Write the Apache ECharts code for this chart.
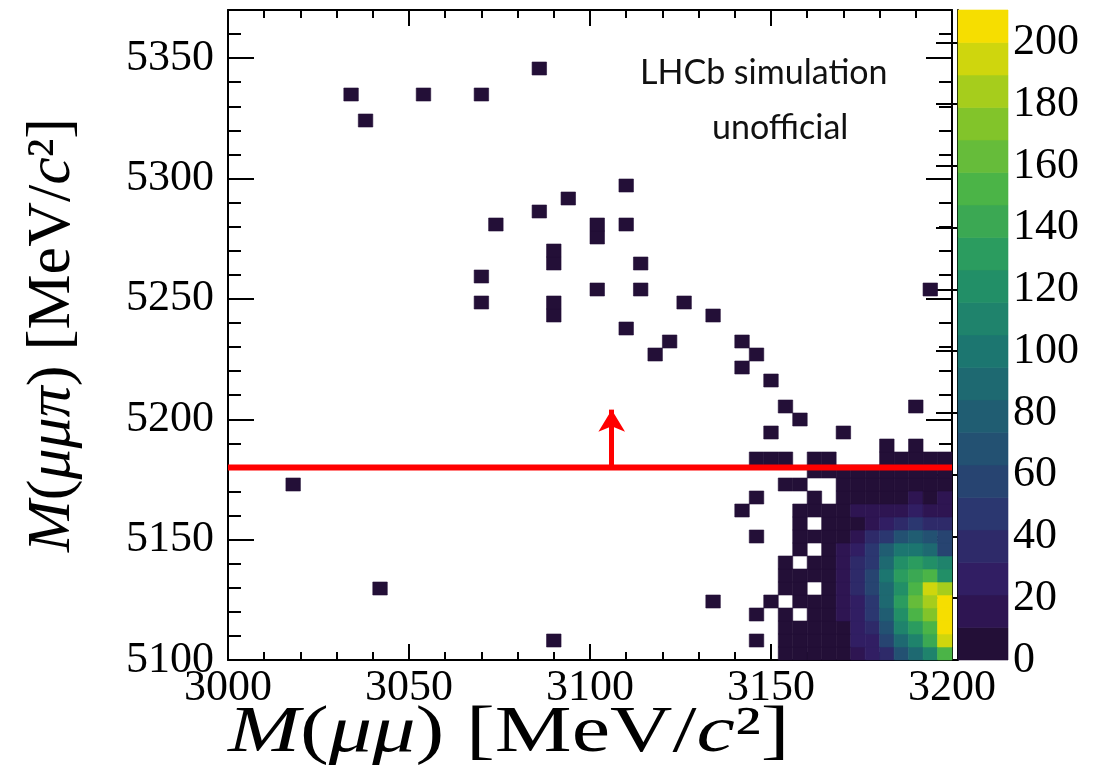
<!DOCTYPE html>
<html lang="en">
<head>
<meta charset="UTF-8">
<title>M(mumu) vs M(mumupi)</title>
<style>
    html, body { margin: 0; padding: 0; background: #fff; }
    #chart { width: 1110px; height: 779px; }
</style>
</head>
<body>
<div id="chart"></div>
<script src="https://cdn.jsdelivr.net/npm/echarts@6/dist/echarts.min.js"></script>
<script>
    // histogram binning
    var xMin = 3000, xMax = 3200, xBin = 4;
    var yMin = 5100, yMax = 5370, yBin = 5.4;

    // dense corner: rows 0..16 (from 5100 up), columns 36..49 (3144 .. 3200)
    var denseFirstCol = 36;
    var denseRows = [
        [0, 0, 2, 2, 3, 4, 7, 15, 24, 38, 68, 90, 110, 155],
        [1, 0, 2, 3, 3, 4, 8, 22, 28, 58, 92, 112, 142, 195],
        [0, 0, 2, 3, 4, 5, 9, 26, 38, 68, 112, 131, 152, 206],
        [1, 0, 2, 0, 4, 6, 12, 27, 46, 80, 120, 150, 172, 210],
        [0, 2, 0, 3, 5, 7, 13, 28, 48, 88, 130, 162, 182, 207],
        [0, 0, 2, 4, 0, 8, 14, 37, 56, 90, 122, 150, 196, 184],
        [0, 0, 3, 4, 5, 7, 15, 36, 55, 98, 130, 142, 152, 120],
        [0, 0, 3, 0, 5, 6, 14, 35, 50, 88, 122, 131, 120, 112],
        [0, 0, 0, 2, 0, 4, 12, 25, 45, 78, 100, 100, 88, 62],
        [1, 0, 0, 2, 3, 4, 8, 14, 33, 44, 70, 78, 66, 55],
        [0, 0, 0, 1, 0, 3, 6, 9, 18, 25, 42, 45, 33, 35],
        [0, 0, 0, 1, 1, 2, 5, 13, 15, 14, 16, 22, 15, 18],
        [1, 0, 0, 0, 1, 0, 4, 7, 8, 9, 9, 14, 9, 13],
        [0, 0, 1, 1, 0, 0, 3, 5, 6, 7, 8, 7, 8, 9],
        [0, 0, 0, 0, 2, 1, 3, 4, 3, 5, 6, 5, 6, 7],
        [1, 1, 1, 0, 1, 1, 0, 0, 0, 2, 3, 2, 3, 2],
        [0, 0, 0, 0, 0, 0, 0, 0, 0, 1, 0, 1, 0, 0]
    ];

    // single entries elsewhere: [column, row]
    var singleCells = [
        [8, 43], [9, 41], [13, 43], [17, 43], [21, 45],
        [18, 33], [21, 34], [23, 35], [27, 36], [25, 32], [25, 33], [27, 33],
        [22, 30], [22, 31], [28, 30], [17, 29], [17, 27], [25, 28], [28, 28],
        [22, 26], [22, 27], [27, 25], [31, 27], [33, 26], [30, 24], [29, 23],
        [35, 24], [36, 23], [35, 22], [37, 21], [38, 19], [39, 18], [37, 17],
        [42, 17], [47, 19], [48, 28],
        [4, 13], [10, 5], [22, 1], [33, 4], [35, 11]
    ];

    // selection cut
    var cutValue = 5180;
    var arrowX = 3106, arrowTop = 5204;

    // colour palette (20 contour levels)
    var palette = [
        '#230f37', '#2e1552', '#311e63', '#2e2a69', '#2b3770',
        '#274471', '#235172', '#205d72', '#1e6971', '#1c7670',
        '#1f836c', '#228f67', '#2b9c5f', '#3ba853', '#4bb447',
        '#66bc3a', '#82c42a', '#a6cd1c', '#cfd60d', '#f6de00'
    ];

    var cells = [];
    denseRows.forEach(function (row, r) {
        row.forEach(function (v, c) {
            if (v > 0) cells.push([xMin + (denseFirstCol + c) * xBin, yMin + r * yBin, v]);
        });
    });
    singleCells.forEach(function (p) {
        cells.push([xMin + p[0] * xBin, yMin + p[1] * yBin, 1]);
    });
    var zMax = 0;
    cells.forEach(function (d) { if (d[2] > zMax) zMax = d[2]; });
    zMax = zMax + 0.5;
    var bandWidth = zMax / palette.length;

    function bandColor(v) {
        var b = Math.floor(v / bandWidth);
        if (b > palette.length - 1) b = palette.length - 1;
        return palette[b];
    }

    var serif = "'Liberation Serif', 'Times New Roman', serif";
    var tickFont = 44;
    var black = '#000';
    function plain(v) { return String(v); }

    function mainAxis(extra) {
        var base = {
            type: 'value',
            gridIndex: 0,
            axisLine: {show: true, onZero: false, lineStyle: {color: black, width: 2}},
            axisTick: {show: true, inside: true, lineStyle: {color: black, width: 2}},
            axisLabel: {show: false},
            splitLine: {show: false},
            minorSplitLine: {show: false}
        };
        for (var k in extra) base[k] = extra[k];
        return base;
    }

    var myChart = echarts.init(document.getElementById('chart'));

    var option = {
        animation: false,
        backgroundColor: '#fff',
        textStyle: {fontFamily: serif},
        grid: [
            {left: 228, top: 10, width: 724, height: 650},
            {left: 958, top: 10, width: 50, height: 650}
        ],
        xAxis: [
            mainAxis({
                min: xMin, max: xMax, interval: 50, position: 'bottom',
                axisTick: {show: true, inside: true, length: 16, lineStyle: {color: black, width: 2}},
                minorTick: {show: true, splitNumber: 5, length: 8, lineStyle: {color: black, width: 2}},
                axisLabel: {show: true, color: black, fontFamily: serif, fontSize: tickFont, margin: 6, formatter: plain}
            }),
            mainAxis({
                min: xMin, max: xMax, interval: 50, position: 'top',
                axisTick: {show: true, inside: true, length: 16, lineStyle: {color: black, width: 2}},
                minorTick: {show: true, splitNumber: 5, length: 8, lineStyle: {color: black, width: 2}}
            }),
            {type: 'value', gridIndex: 1, min: 0, max: 1, show: false}
        ],
        yAxis: [
            mainAxis({
                min: yMin, max: yMax, interval: 50, position: 'left',
                axisTick: {show: true, inside: true, length: 26, lineStyle: {color: black, width: 2}},
                axisLabel: {show: true, showMaxLabel: false, color: black, fontFamily: serif, fontSize: tickFont, margin: 14, formatter: plain},
                name: '{i|M}({i|μμπ}) [MeV/{i|c}²]',
                nameLocation: 'middle',
                nameRotate: 90,
                nameGap: 144,
                nameTextStyle: {
                    color: black, fontFamily: serif, fontSize: 62,
                    rich: {i: {fontFamily: serif, fontSize: 62, fontStyle: 'italic', color: black}}
                }
            }),
            mainAxis({
                min: yMin, max: yMax, interval: 10, position: 'left',
                axisLine: {show: false},
                axisTick: {show: true, inside: true, length: 13, lineStyle: {color: black, width: 2}}
            }),
            mainAxis({
                min: yMin, max: yMax, interval: 50, position: 'right',
                axisTick: {show: true, inside: true, length: 26, lineStyle: {color: black, width: 2}}
            }),
            mainAxis({
                min: yMin, max: yMax, interval: 10, position: 'right',
                axisLine: {show: false},
                axisTick: {show: true, inside: true, length: 13, lineStyle: {color: black, width: 2}}
            }),
            {
                type: 'value', gridIndex: 1, position: 'right', min: 0, max: zMax, interval: 20,
                axisLine: {show: true, lineStyle: {color: black, width: 2}},
                axisTick: {show: true, inside: true, length: 22, lineStyle: {color: black, width: 2}},
                axisLabel: {
                    show: true, showMaxLabel: false, margin: 5,
                    formatter: function (v) { return '{z|' + v + '}'; },
                    rich: {z: {fontFamily: serif, fontSize: tickFont, color: black}}
                },
                splitLine: {show: false}
            }
        ],
        graphic: [
            {
                type: 'text', left: 228, top: 701, scaleX: 1.31,
                style: {
                    text: '{i|M}({i|μμ}) [MeV/{i|c}²]',
                    fontFamily: serif, fontSize: 66, fill: black,
                    rich: {i: {fontFamily: serif, fontSize: 66, fontStyle: 'italic', fill: black}}
                }
            },
            {type: 'text', left: 640, top: 56, style: {text: 'LHCb simulation', fontFamily: 'Lato, sans-serif', fontSize: 34, fill: '#111'}},
            {type: 'text', left: 712, top: 111, style: {text: 'unofficial', fontFamily: 'Lato, sans-serif', fontSize: 34, fill: '#111'}}
        ],
        series: [
            {
                type: 'custom',
                xAxisIndex: 0,
                yAxisIndex: 0,
                data: cells,
                silent: true,
                renderItem: function (params, api) {
                    var x0 = api.value(0), y0 = api.value(1), v = api.value(2);
                    var p0 = api.coord([x0, y0 + yBin]);
                    var p1 = api.coord([x0 + xBin, y0]);
                    var c = bandColor(v);
                    return {
                        type: 'rect',
                        shape: {x: p0[0], y: p0[1], width: p1[0] - p0[0], height: p1[1] - p0[1]},
                        style: {fill: c, stroke: c, lineWidth: 0.6}
                    };
                }
            },
            {
                type: 'line',
                xAxisIndex: 0,
                yAxisIndex: 0,
                data: [[xMin, cutValue], [xMax, cutValue]],
                symbol: 'none',
                silent: true,
                z: 5,
                lineStyle: {color: '#ff0000', width: 6},
                markLine: {
                    silent: true,
                    symbol: ['none', 'arrow'],
                    symbolSize: [20, 22],
                    label: {show: false},
                    lineStyle: {color: '#ff0000', width: 5, type: 'solid'},
                    data: [[{coord: [arrowX, cutValue]}, {coord: [arrowX, arrowTop]}]]
                }
            },
            {
                type: 'custom',
                xAxisIndex: 2,
                yAxisIndex: 4,
                silent: true,
                data: palette.map(function (c, i) { return [i]; }),
                renderItem: function (params, api) {
                    var i = api.value(0);
                    var p0 = api.coord([0, (i + 1) * bandWidth]);
                    var p1 = api.coord([1, i * bandWidth]);
                    return {
                        type: 'rect',
                        shape: {x: p0[0], y: p0[1], width: p1[0] - p0[0], height: p1[1] - p0[1]},
                        style: {fill: palette[i], stroke: palette[i], lineWidth: 0.6}
                    };
                }
            }
        ]
    };

    myChart.setOption(option);
</script>
</body>
</html>
